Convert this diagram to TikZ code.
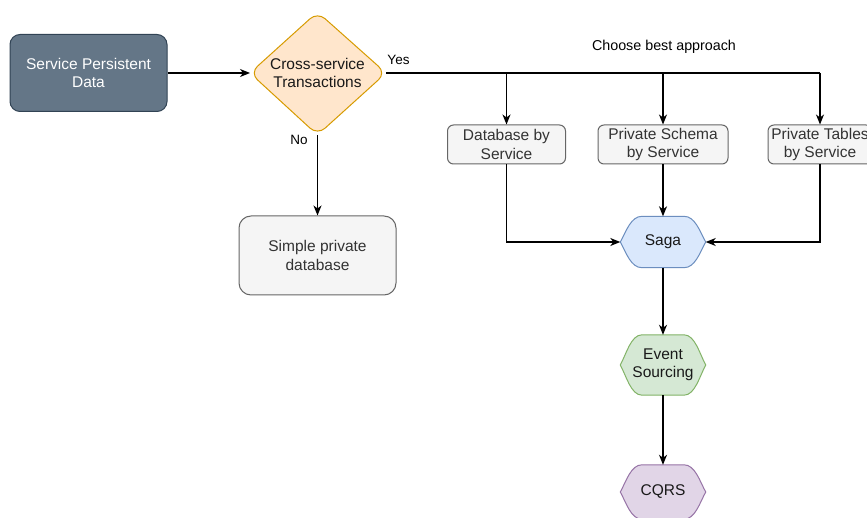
\documentclass[tikz,border=0pt]{standalone}
\usepackage{fontspec}
\setmainfont{Liberation Sans}
\usetikzlibrary{arrows.meta,calc}

\definecolor{slatefill}{HTML}{647687}
\definecolor{slateline}{HTML}{314354}
\definecolor{orfill}{HTML}{FFE6CC}
\definecolor{orline}{HTML}{D79B00}
\definecolor{grfill}{HTML}{F5F5F5}
\definecolor{grline}{HTML}{666666}
\definecolor{grtext}{HTML}{333333}
\definecolor{blfill}{HTML}{DAE8FC}
\definecolor{blline}{HTML}{6C8EBF}
\definecolor{gnfill}{HTML}{D5E8D4}
\definecolor{gnline}{HTML}{82B366}
\definecolor{pufill}{HTML}{E1D5E7}
\definecolor{puline}{HTML}{9673A6}

\tikzset{
  nodefont/.style={font=\fontsize{15.5}{18.5}\selectfont, align=center},
  labelfont/.style={font=\fontsize{13.5}{16}\selectfont},
  box/.style={nodefont, rounded corners=#1, line width=1pt, inner sep=0pt},
  darkbox/.style={box=10pt, fill=slatefill, draw=slateline, text=white},
  greybox/.style={box=#1, fill=grfill, draw=grline, text=grtext},
  blobtext/.style={nodefont, inner sep=0pt, minimum width=85pt, text=black!90},
  conn/.style={line width=1.2pt, -{Stealth[length=10pt,width=8pt,inset=3pt]}},
  plainconn/.style={line width=1.2pt},
}

% curved hexagon drawn around a (borderless) node
\newcommand\blob[3]{%
  \draw[fill=#2, draw=#3, line width=1pt]
    (#1.west) .. controls +(6,-11) and +(-11,0) .. ($(#1.north)+(-21,0)$)
    -- ($(#1.north)+(21,0)$)
    .. controls +(11,0) and +(-6,-11) .. (#1.east)
    .. controls +(-6,11) and +(11,0) .. ($(#1.south)+(21,0)$)
    -- ($(#1.south)+(-21,0)$)
    .. controls +(-11,0) and +(6,11) .. (#1.west) -- cycle;
}

\begin{document}
\begin{tikzpicture}[x=1pt, y=-1pt]
  \clip (0,0) rectangle (867,518);
  \fill[white] (0,0) rectangle (867,518);

  % start box
  \node[darkbox, minimum width=157pt, minimum height=77pt] (spd) at (88.5,73) {Service Persistent\\Data};

  % decision
  \coordinate (dl) at (250,73);
  \coordinate (dt) at (317.5,12);
  \coordinate (dr) at (386,73);
  \coordinate (db) at (317.5,135);
  \draw[fill=orfill, draw=orline, line width=1pt, rounded corners=10pt]
    (dl) -- (dt) -- (dr) -- (db) -- cycle;
  \node[nodefont, text=black!90] (dec) at (317.5,73) {Cross-service\\Transactions};

  % alternatives
  \node[greybox=6pt, minimum width=118pt, minimum height=39pt] (dbs) at (506.5,144.5) {Database by\\Service};
  \node[greybox=6pt, minimum width=130pt, minimum height=39pt] (pss) at (663,144.5) {Private Schema\\by Service};
  \node[greybox=6pt, minimum width=104pt, minimum height=39pt] (pts) at (820,144.5) {Private Tables\\by Service};
  \node[greybox=12pt, minimum width=157pt, minimum height=79pt] (spdb) at (317.5,255.5) {Simple private\\database};

  % pattern chain
  \node[blobtext, minimum height=51pt] (saga) at (663,242) {Saga};
  \node[blobtext, minimum height=60pt] (evs) at (663,365) {Event\\Sourcing};
  \node[blobtext, minimum height=54pt] (cqrs) at (663,492) {CQRS};
  \blob{saga}{blfill}{blline}
  \blob{evs}{gnfill}{gnline}
  \blob{cqrs}{pufill}{puline}
  \node[blobtext] at (saga) {Saga};
  \node[blobtext] at (evs) {Event\\Sourcing};
  \node[blobtext] at (cqrs) {CQRS};

  % connectors
  \draw[conn] (spd.east) -- (dl);
  \draw[plainconn] (dr) -- (pts.north |- dr);
  \draw[conn] (dbs.north |- dr) -- (dbs.north);
  \draw[conn] (pss.north |- dr) -- (pss.north);
  \draw[conn] (pts.north |- dr) -- (pts.north);
  \draw[conn] (db) -- (spdb.north);
  \draw[conn] (dbs.south) |- (saga.west);
  \draw[conn] (pts.south) |- (saga.east);
  \draw[conn] (pss.south) -- (saga.north);
  \draw[conn] (saga.south) -- (evs.north);
  \draw[conn] (evs.south) -- (cqrs.north);

  % labels
  \node[labelfont] (yes) at (398.5,60) {Yes};
  \node[labelfont] (no) at (299,140) {No};
  \node[font=\fontsize{14.3}{17}\selectfont] (choose) at (664,47) {Choose best approach};
\end{tikzpicture}
\end{document}
